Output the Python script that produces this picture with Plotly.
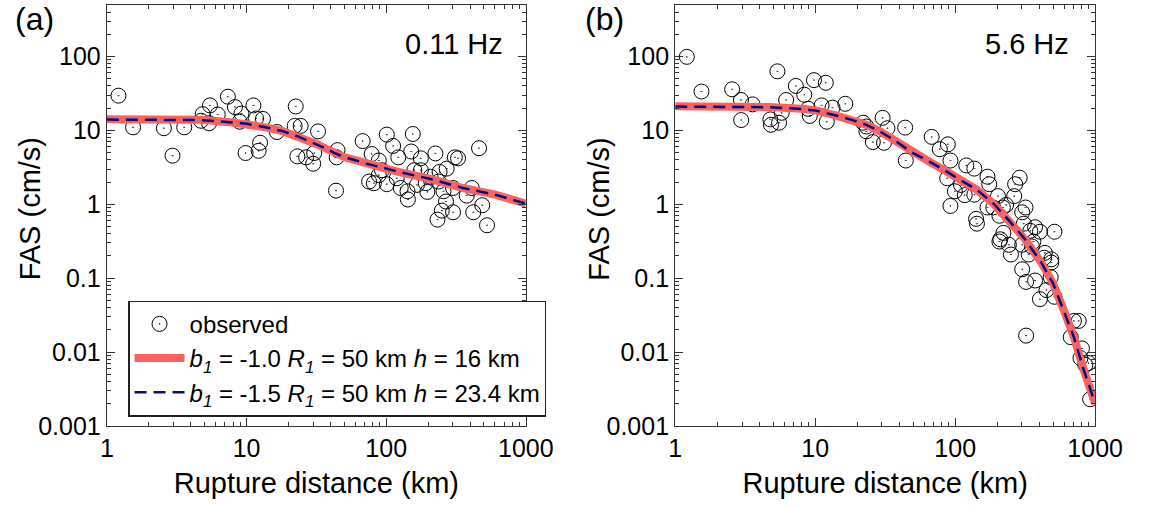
import plotly.graph_objects as go

# ---------------- data ----------------
# Panel (a) 0.11 Hz observed
obs_a_x = [1.21, 1.54, 2.56, 3.58, 2.95, 4.85, 4.72, 5.47, 5.39, 6.22, 7.35, 8.26, 9.19, 8.94,
           11.2, 11.7, 13.1, 9.84, 12.2, 12.5, 16.5, 22.5, 22.1, 24.4, 23.1, 26.7, 30.5, 30.0,
           32.5, 44.8, 44.2, 43.7, 67.8, 78.7, 75.4, 81.6, 88.5, 88.5, 93.4, 101, 112, 101,
           119, 122, 127, 142, 143, 155, 151, 159, 166, 177, 177, 192, 197, 208, 225, 241,
           237, 257, 271, 268, 250, 233, 301, 310, 327, 301, 377, 410, 420, 487, 462, 527]
obs_a_y = [29.5, 11.0, 10.7, 11.0, 4.55, 16.6, 13.5, 21.8, 12.5, 16.4, 28.6, 20.7, 16.9, 13.1,
           21.8, 14.5, 14.3, 4.94, 5.29, 6.81, 9.5, 21.1, 11.5, 11.5, 4.45, 4.32, 4.94, 3.54,
           9.7, 5.41, 4.32, 1.53, 7.17, 4.79, 2.03, 1.93, 3.91, 2.48, 2.89, 8.77, 6.16, 1.87,
           2.25, 4.32, 1.66, 1.50, 1.16, 8.94, 5.18, 2.89, 1.83, 4.19, 2.89, 1.93, 1.47, 2.36,
           4.88, 2.74, 2.03, 1.50, 3.04, 1.09, 0.82, 0.62, 0.78, 4.32, 4.19, 1.66, 1.31, 1.66,
           0.78, 0.97, 5.74, 0.52]

# Panel (a) model curves
fit_a_x = [1, 2, 3, 4.7, 8, 10, 13.7, 18, 23.3, 28, 32, 37.7, 42, 46, 50, 60, 72, 100,
           122, 208, 354, 603, 1000]
fit_a_y1 = [14.1, 14.1, 14.0, 13.9, 12.8, 12.3, 11.0, 9.8, 8.3, 7.2, 6.5, 5.6, 5.0, 4.6,
            4.35, 3.95, 3.55, 3.05, 2.75, 2.2, 1.66, 1.35, 1.02]
fit_a_y2 = [14.0, 14.0, 13.9, 13.8, 12.8, 12.3, 11.0, 9.8, 8.3, 7.2, 6.5, 5.6, 5.0, 4.6,
            4.35, 3.95, 3.55, 3.05, 2.75, 2.2, 1.66, 1.35, 1.02]

# Panel (b) 5.6 Hz observed
obs_b_x = [1.21, 1.54, 2.55, 2.95, 3.57, 2.96, 4.78, 4.83, 5.52, 5.37, 6.20, 5.76, 7.27, 8.35,
           9.80, 11.9, 8.90, 9.15, 11.1, 13.3, 12.1, 16.4, 22.0, 23.2, 30.3, 32.8, 25.8, 31.0,
           23.2, 43.9, 44.4, 67.9, 77.6, 88.6, 92.5, 87.7, 92.5, 99.5, 120, 137, 110, 117,
           137, 170, 175, 141, 143, 170, 202, 207, 231, 289, 268, 264, 301, 309, 221, 210,
           250, 301, 344, 362, 403, 512, 437, 335, 486, 301, 372, 321, 403, 449, 512, 481,
           486, 432, 321, 705, 763, 669, 805, 785, 850, 895, 920, 353, 242, 207, 219, 187,
           318, 372]
obs_b_y = [99, 33.6, 36, 25.8, 22.5, 13.8, 14.1, 11.9, 12.7, 63, 25.8, 17.3, 40, 30.4,
           47.9, 44.1, 19.6, 15.7, 21.8, 20.3, 13.1, 22.9, 12.7, 11.3, 14.8, 10.7, 6.95, 6.8,
           9.7, 10.9, 3.91, 8.17, 5.57, 6.48, 3.91, 2.25, 0.95, 1.50, 3.36, 3.04, 1.83, 1.33,
           1.35, 2.36, 1.87, 0.635, 0.546, 0.905, 1.29, 0.70, 0.98, 2.29, 1.87, 1.29, 0.78,
           0.546, 0.41, 0.336, 0.209, 0.283, 0.437, 0.313, 0.425, 0.425, 0.22, 0.209, 0.18,
           0.132, 0.093, 0.089, 0.052, 0.069, 0.056, 0.103, 0.163, 0.189, 0.0167, 0.0264,
           0.0264, 0.0159, 0.0112, 0.0083, 0.0067, 0.0071, 0.0023, 0.269, 0.283, 0.313, 0.905,
           0.905, 0.905, 0.49]

# Panel (b) model curves
fit_b_x = [1, 2, 4.7, 8, 10, 13.6, 18, 23.2, 29, 37.4, 49.3, 65, 84, 110, 143, 190, 243,
           318, 414, 500, 601, 705, 827, 1000]
fit_b_y1 = [21.2, 21.1, 20.7, 19.6, 18.7, 16.2, 14.0, 11.9, 9.7, 7.2, 5.0, 3.8, 2.89, 2.1,
            1.57, 1.0, 0.60, 0.33, 0.16, 0.085, 0.0357, 0.0159, 0.0058, 0.0020]
fit_b_y2 = [21.0, 20.9, 20.6, 19.5, 18.6, 16.2, 14.0, 11.9, 9.7, 7.2, 5.0, 3.8, 2.89, 2.1,
            1.57, 1.0, 0.60, 0.33, 0.16, 0.085, 0.0357, 0.0159, 0.0058, 0.0020]

x_tickvals = [1, 10, 100, 1000]
x_ticktext = ["1", "10", "100", "1000"]
y_tickvals = [0.001, 0.01, 0.1, 1, 10, 100]
y_ticktext = ["0.001", "0.01", "0.1", "1", "10", "100"]

legend_names = ["observed",
                "<i>b<sub>1</sub></i> = -1.0 <i>R<sub>1</sub></i> = 50 km <i>h</i> = 16 km",
                "<i>b<sub>1</sub></i> = -1.5 <i>R<sub>1</sub></i> = 50 km <i>h</i> = 23.4 km"]

# ---------------- styles ----------------
FONT = "Liberation Sans, Arial, sans-serif"
SALMON = "rgb(250,98,98)"
NAVY = "#0a0a80"

fig = go.Figure()

def add_panel(xa, ya, ox, oy, fx, fy1, fy2, show):
    fig.add_trace(go.Scatter(x=ox, y=oy, mode="markers", name=legend_names[0],
                             marker=dict(symbol="circle-open-dot", size=15, color="black",
                                         line=dict(width=1, color="black")),
                             xaxis=xa, yaxis=ya, showlegend=show))
    fig.add_trace(go.Scatter(x=fx, y=fy1, mode="lines", name=legend_names[1],
                             line=dict(color=SALMON, width=8), xaxis=xa, yaxis=ya,
                             showlegend=show))
    fig.add_trace(go.Scatter(x=fx, y=fy2, mode="lines", name=legend_names[2],
                             line=dict(color=NAVY, width=2.5, dash="12px,7px"),
                             xaxis=xa, yaxis=ya, showlegend=show))

add_panel("x", "y", obs_a_x, obs_a_y, fit_a_x, fit_a_y1, fit_a_y2, True)
add_panel("x2", "y2", obs_b_x, obs_b_y, fit_b_x, fit_b_y1, fit_b_y2, False)

W, H = 1161, 509
def xdom(l, r):
    return [l / W, r / W]
ydom = [(H - 438) / H, (H - 5) / H]

axis_common = dict(type="log", showline=True, linecolor="#333", linewidth=1.3,
                   mirror="allticks", ticks="inside", ticklen=8, tickwidth=1.3,
                   tickcolor="#333", showgrid=False, zeroline=False,
                   tickfont=dict(family=FONT, size=25, color="black"),
                   minor=dict(ticks="inside", ticklen=4, tickwidth=1, tickcolor="#333",
                              dtick="D1", showgrid=False))

xa = dict(axis_common, range=[0, 3], tickvals=x_tickvals, ticktext=x_ticktext,
          title=dict(text="Rupture distance (km)", font=dict(family=FONT, size=29, color="black"),
                     standoff=11))
ya = dict(axis_common, range=[-3, 2.699], tickvals=y_tickvals, ticktext=y_ticktext)

def ann(text, x, y, size, xanchor="center", angle=0):
    return dict(text=text, x=x / W, y=(H - y) / H, xref="paper", yref="paper",
                xanchor=xanchor, yanchor="middle", showarrow=False, textangle=angle,
                font=dict(family=FONT, size=size, color="black"))

fig.update_layout(
    width=W, height=H,
    margin=dict(l=0, r=0, t=0, b=0),
    paper_bgcolor="white", plot_bgcolor="white",
    xaxis=dict(xa, domain=xdom(103, 535), anchor="y"),
    yaxis=dict(ya, domain=ydom, anchor="x"),
    xaxis2=dict(xa, domain=xdom(689, 1122), anchor="y2"),
    yaxis2=dict(ya, domain=ydom, anchor="x2"),
    showlegend=True,
    legend=dict(x=125 / W, y=(H - 309) / H, xanchor="left", yanchor="top",
                bgcolor="white", bordercolor="#222", borderwidth=1.3,
                font=dict(family=FONT, size=24, color="black"),
                tracegroupgap=0, itemwidth=50),
    annotations=[
        ann("FAS (cm/s)", 24, 215, 29, angle=-90),
        ann("FAS (cm/s)", 610, 215, 29, angle=-90),
        ann("0.11 Hz", 513, 45, 29, xanchor="right"),
        ann("5.6 Hz", 1097, 45, 29, xanchor="right"),
        ann("(a)", 6, 20, 32, xanchor="left"),
        ann("(b)", 594, 20, 32, xanchor="left"),
    ],
)

fig.write_html("out.html")
